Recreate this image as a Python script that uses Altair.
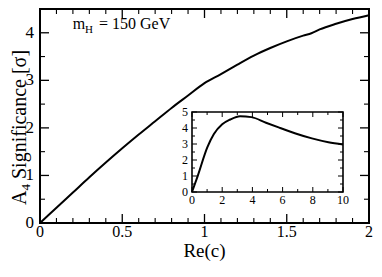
import altair as alt
import pandas as pd

# ---------------- data ----------------
main_x = [0, 0.1, 0.2, 0.3, 0.4, 0.5, 0.6, 0.7, 0.8, 0.9, 1.0, 1.1, 1.2, 1.3,
          1.4, 1.5, 1.6, 1.65, 1.7, 1.8, 1.9, 2.0]
main_y = [0, 0.32, 0.64, 0.96, 1.27, 1.57, 1.86, 2.14, 2.42, 2.68, 2.94, 3.13,
          3.33, 3.52, 3.68, 3.82, 3.94, 3.99, 4.07, 4.19, 4.29, 4.37]

inset_x = [0, 0.37, 1.02, 1.45, 2.0, 2.53, 3.18, 3.94, 4.9, 5.78, 6.86, 7.94, 9.03, 10]
inset_y = [0, 0.98, 2.8, 3.62, 4.23, 4.53, 4.74, 4.68, 4.33, 4.02, 3.66, 3.35, 3.11, 2.97]

x_major = [0, 0.5, 1, 1.5, 2]
x_minor = [0.1, 0.2, 0.3, 0.4, 0.6, 0.7, 0.8, 0.9, 1.1, 1.2, 1.3, 1.4,
           1.6, 1.7, 1.8, 1.9]
y_major = [0, 1, 2, 3, 4]
y_minor = [0.5, 1.5, 2.5, 3.5]

ix_major = [0, 2, 4, 6, 8, 10]
ix_minor = [1, 3, 5, 7, 9]
iy_major = [0, 1, 2, 3, 4, 5]
iy_minor = [0.5, 1.5, 2.5, 3.5, 4.5]

main_x_domain = [0, 2]
main_y_domain = [0, 4.5]
inset_x_domain = [0, 10]
inset_y_domain = [0, 5]

x_title = "Re(c)"
y_title_parts = ["A", "4", "Significance [σ]"]
label_parts = ["m", "H", "= 150 GeV"]

# ---------------- layout ----------------
W, H = 329, 214
FONT = "Liberation Serif"
IX0, IX1, IY0, IY1 = 152, 303, 183, 103

xs = alt.Scale(domain=main_x_domain, nice=False, zero=False)
ys = alt.Scale(domain=main_y_domain, nice=False, zero=False)
ixs = alt.Scale(domain=inset_x_domain, range=[IX0, IX1], nice=False, zero=False)
iys = alt.Scale(domain=inset_y_domain, range=[IY0, IY1], nice=False, zero=False)


def vals(v):
    return pd.DataFrame({"v": v})


# ---------------- main panel ----------------
curve = alt.Chart(pd.DataFrame({"x": main_x, "y": main_y})).mark_line(
    color="black", strokeWidth=2, interpolate="monotone"
).encode(
    x=alt.X("x:Q", scale=xs, axis=None),
    y=alt.Y("y:Q", scale=ys, axis=None),
)


def xticks(v, scale, ybase, length, sw, up=True):
    y2 = ybase - length if up else ybase + length
    return alt.Chart(vals(v)).mark_rule(color="black", strokeWidth=sw).encode(
        x=alt.X("v:Q", scale=scale, axis=None),
        y=alt.value(ybase), y2=alt.value(y2))


def yticks(v, scale, xbase, length, sw, right=True):
    x2 = xbase + length if right else xbase - length
    return alt.Chart(vals(v)).mark_rule(color="black", strokeWidth=sw).encode(
        y=alt.Y("v:Q", scale=scale, axis=None),
        x=alt.value(xbase), x2=alt.value(x2))


main_ticks = [
    xticks(x_major, xs, H, 9, 1.3, True),
    xticks(x_minor, xs, H, 5, 1.1, True),
    xticks(x_major, xs, 0, 9, 1.3, False),
    xticks(x_minor, xs, 0, 5, 1.1, False),
    yticks(y_major, ys, 0, 9, 1.3, True),
    yticks(y_minor, ys, 0, 5, 1.1, True),
    yticks(y_major, ys, W, 9, 1.3, False),
    yticks(y_minor, ys, W, 5, 1.1, False),
]

mxlabels = alt.Chart(vals(x_major)).mark_text(
    font=FONT, fontSize=16, color="black", baseline="top", align="center"
).encode(x=alt.X("v:Q", scale=xs, axis=None), y=alt.value(H + 1),
         text=alt.Text("v:Q", format="~g"))

mylabels = alt.Chart(vals(y_major)).mark_text(
    font=FONT, fontSize=17, color="black", baseline="middle", align="right"
).encode(y=alt.Y("v:Q", scale=ys, axis=None), x=alt.value(-6),
         text=alt.Text("v:Q", format="~g"))


def txt(t, x, y, size, angle=0, align="left", baseline="alphabetic"):
    kw = dict(font=FONT, fontSize=size, color="black", align=align,
              baseline=baseline)
    if angle:
        kw["angle"] = angle
    return alt.Chart(pd.DataFrame({"t": [t]})).mark_text(**kw).encode(
        x=alt.value(x), y=alt.value(y), text="t:N")


texts = [
    txt(label_parts[0], 32.7, 20.3, 16),
    txt(label_parts[1], 45, 24, 11),
    txt(label_parts[2], 59, 20.3, 16),
    txt(y_title_parts[0], -14, 196, 20, angle=270),
    txt(y_title_parts[1], -10, 181.5, 13, angle=270),
    txt(y_title_parts[2], -14, 170, 20, angle=270),
    txt(x_title, W / 2, 248, 19, align="center"),
]

main = alt.layer(curve, *main_ticks, mxlabels, mylabels, *texts)

# ---------------- inset panel ----------------
frame = alt.Chart(pd.DataFrame({
    "x0": [inset_x_domain[0]], "x1": [inset_x_domain[1]],
    "y0": [inset_y_domain[0]], "y1": [inset_y_domain[1]]})).mark_rect(
    fill="white", stroke="black", strokeWidth=1.6
).encode(
    x=alt.X("x0:Q", scale=ixs, axis=None), x2="x1:Q",
    y=alt.Y("y0:Q", scale=iys, axis=None), y2="y1:Q")

icurve = alt.Chart(pd.DataFrame({"x": inset_x, "y": inset_y})).mark_line(
    color="black", strokeWidth=2, interpolate="monotone"
).encode(
    x=alt.X("x:Q", scale=ixs, axis=None),
    y=alt.Y("y:Q", scale=iys, axis=None))

inset_ticks = [
    xticks(ix_major, ixs, IY0, 5, 1, True),
    xticks(ix_minor, ixs, IY0, 3, 1, True),
    xticks(ix_major, ixs, IY1, 5, 1, False),
    xticks(ix_minor, ixs, IY1, 3, 1, False),
    yticks(iy_major, iys, IX0, 5, 1, True),
    yticks(iy_minor, iys, IX0, 3, 1, True),
    yticks(iy_major, iys, IX1, 5, 1, False),
    yticks(iy_minor, iys, IX1, 3, 1, False),
]

ixlabels = alt.Chart(vals(ix_major)).mark_text(
    font=FONT, fontSize=12, color="black", baseline="top", align="center"
).encode(x=alt.X("v:Q", scale=ixs, axis=None), y=alt.value(IY0 + 3),
         text=alt.Text("v:Q", format="~g"))

iylabels = alt.Chart(vals(iy_major)).mark_text(
    font=FONT, fontSize=12, color="black", baseline="middle", align="right"
).encode(y=alt.Y("v:Q", scale=iys, axis=None), x=alt.value(IX0 - 4),
         text=alt.Text("v:Q", format="~g"))

inset = alt.layer(frame, icurve, *inset_ticks, ixlabels, iylabels)

chart = alt.layer(main, inset).resolve_scale(
    x="independent", y="independent"
).properties(
    width=W, height=H, autosize="none",
    padding={"left": 32, "top": 1, "right": 5, "bottom": 38},
).configure_view(stroke="black", strokeWidth=2)

chart.save("out.html", embed_options={"renderer": "svg", "actions": False})
